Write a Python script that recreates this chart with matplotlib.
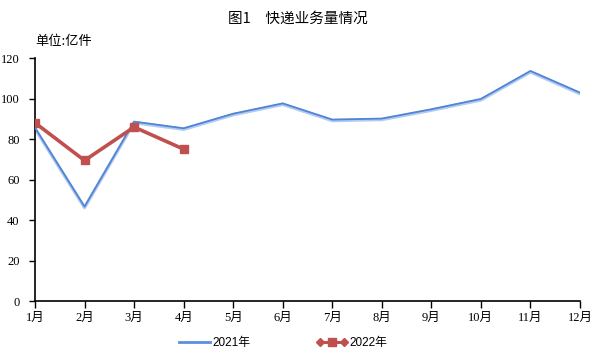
import matplotlib
matplotlib.use("Agg")
import matplotlib.pyplot as plt
from matplotlib.lines import Line2D
from matplotlib.legend_handler import HandlerLine2D, HandlerTuple

plt.rcParams['font.family'] = ['Liberation Serif', 'Noto Sans CJK SC', 'DejaVu Sans']

months = ["1月", "2月", "3月", "4月", "5月", "6月", "7月", "8月", "9月", "10月", "11月", "12月"]
v2021 = [85.6, 46.6, 88.6, 85.3, 92.5, 97.6, 89.6, 90.1, 94.7, 99.8, 113.6, 102.9]
v2022 = [88.0, 69.4, 85.9, 75.0]
yticks = [0, 20, 40, 60, 80, 100, 120]

fig = plt.figure(figsize=(5.95, 3.54), dpi=100)
ax = fig.add_axes([0.0588, 0.1497, 0.9160, 0.6864])

x = list(range(len(months)))
ax.plot(x, [v - 0.5 for v in v2021], color="#B3CBF0", lw=2.4, zorder=2)
ax.plot(x, v2021, color="#4F84D6", lw=1.3, zorder=3)
ax.plot(x[:len(v2022)], v2022, color="#C0504D", lw=2.6, marker="s", markersize=6,
        markeredgecolor="#C0504D", zorder=4)

ax.set_xlim(0, len(months) - 1)
ax.set_ylim(0, 120)
ax.set_yticks(yticks)
ax.set_xticks(x)
ax.set_xticklabels(months, fontsize=9)
ax.tick_params(axis='y', labelsize=9, length=4, width=1, direction='out', pad=7)
ax.tick_params(axis='x', length=5, width=1, direction='out', pad=3)
for s in ["top", "right"]:
    ax.spines[s].set_visible(False)
for s in ["left", "bottom"]:
    ax.spines[s].set_linewidth(1.2)

fig.text(0.5, 0.947, "图1　快递业务量情况", ha="center", va="center", fontsize=10.5,
         family=['Noto Sans CJK SC'])
fig.text(0.059, 0.883, "单位:亿件", ha="left", va="center", fontsize=9.5,
         family=['Noto Sans CJK SC'])

h1 = Line2D([], [], color="#5B8FE0", lw=2)
r_line = Line2D([], [], color="#C0504D", lw=2.2, marker="D", markersize=4)
r_mark = Line2D([], [], color="#C0504D", lw=0, marker="s", markersize=6)
leg = fig.legend([h1, (r_line, r_mark)], ["2021年", "2022年"],
                 handler_map={r_line: HandlerLine2D(numpoints=2),
                              r_mark: HandlerLine2D(numpoints=1),
                              tuple: HandlerTuple(ndivide=1)},
                 loc="center", bbox_to_anchor=(0.4765, 0.03), ncol=2, frameon=False,
                 handlelength=2.6, handletextpad=0.2, columnspacing=5.6,
                 prop={'family': ['Liberation Sans', 'Noto Sans CJK SC'], 'size': 8.5})

fig.savefig("out.png", dpi=100)
